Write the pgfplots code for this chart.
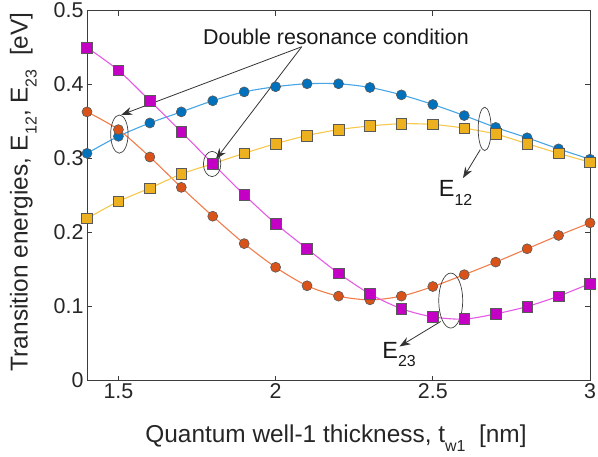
\documentclass[border=0pt]{standalone}
\usepackage{fontspec}
\setmainfont{Liberation Sans}
\usepackage{pgfplots}
\usepackage{pgfplotstable}
\pgfplotsset{compat=1.18}
\usetikzlibrary{arrows.meta}

\definecolor{mblue}{RGB}{0,114,189}
\definecolor{lblue}{RGB}{70,165,228}
\definecolor{morange}{RGB}{217,83,25}
\definecolor{lorange}{RGB}{240,125,75}
\definecolor{myellow}{RGB}{237,177,32}
\definecolor{lyellow}{RGB}{247,200,75}
\definecolor{mmag}{RGB}{196,0,196}
\definecolor{lmag}{RGB}{228,90,228}
\definecolor{axgray}{RGB}{60,60,60}

\newcommand{\sub}[2]{\raisebox{-#1}{\fontsize{16}{16}\selectfont #2}}

\pgfplotstableread{
x    blue   yellow orange magenta
1.4  0.307  0.219  0.363  0.450
1.5  0.330  0.242  0.339  0.419
1.6  0.348  0.260  0.302  0.378
1.7  0.363  0.279  0.261  0.336
1.8  0.378  0.293  0.222  0.293
1.9  0.390  0.307  0.185  0.251
2.0  0.397  0.320  0.153  0.212
2.1  0.401  0.331  0.128  0.178
2.2  0.401  0.339  0.114  0.145
2.3  0.396  0.344  0.109  0.117
2.4  0.386  0.347  0.114  0.097
2.5  0.373  0.346  0.127  0.086
2.6  0.358  0.341  0.143  0.083
2.7  0.342  0.333  0.160  0.090
2.8  0.328  0.320  0.178  0.100
2.9  0.313  0.307  0.196  0.114
3.0  0.299  0.295  0.213  0.131
}\datatable

\begin{document}
\begin{tikzpicture}
\begin{axis}[
  scale only axis, width=503bp, height=370bp,
  xmin=1.4, xmax=3, ymin=0, ymax=0.5,
  xtick={1.5,2,2.5,3}, xticklabels={1.5,2,2.5,3},
  ytick={0,0.1,0.2,0.3,0.4,0.5}, yticklabels={0,0.1,0.2,0.3,0.4,0.5},
  tick align=inside, major tick length=5bp, minor tick num=0,
  axis line style={draw=axgray, line width=0.8bp},
  every tick/.style={draw=axgray, line width=0.8bp},
  tick label style={font=\fontsize{21.5}{24}\selectfont, text=black!85},
  label style={font=\fontsize{24.5}{28}\selectfont, text=black!85},
  xlabel={Quantum well-1 thickness, t\sub{9bp}{w1}\ \ [nm]},
  ylabel={Transition energies, E\sub{9bp}{12}, E\sub{9bp}{23}\ \ [eV]},
  xlabel style={at={(axis description cs:0.495,-0.168)}, anchor=base},
  ylabel style={at={(axis description cs:-0.118,0.51)}, anchor=base},
  clip=false,
  every axis plot/.append style={line width=1.1bp, smooth},
]
\addplot[lblue, mark=*, mark size=5bp, mark options={fill=mblue, draw=black!65, line width=0.6bp}] table[x=x, y=blue] {\datatable};
\addplot[lorange, mark=*, mark size=5bp, mark options={fill=morange, draw=black!65, line width=0.6bp}] table[x=x, y=orange] {\datatable};
\addplot[lyellow, mark=square*, mark size=5.3bp, mark options={fill=myellow, draw=black!65, line width=0.6bp}] table[x=x, y=yellow] {\datatable};
\addplot[lmag, mark=square*, mark size=5.3bp, mark options={fill=mmag, draw=black!65, line width=0.6bp}] table[x=x, y=magenta] {\datatable};

% annotations
\draw[black!75, line width=0.7bp] (axis cs:1.503,0.333) ellipse [x radius=8.7bp, y radius=19.1bp];
\draw[black!75, line width=0.7bp] (axis cs:1.798,0.2926) ellipse [x radius=8.7bp, y radius=12.6bp];
\draw[black!75, line width=0.7bp] (axis cs:2.665,0.340) ellipse [x radius=6.5bp, y radius=21.7bp];
\draw[black!75, line width=0.7bp] (axis cs:2.557,0.108) ellipse [x radius=12bp, y radius=27.5bp];

\draw[-{Stealth[length=11bp,width=8bp]}, black!80, line width=0.8bp] (axis cs:2.083,0.451) -- (axis cs:1.509,0.359);
\draw[-{Stealth[length=11bp,width=8bp]}, black!80, line width=0.8bp] (axis cs:2.083,0.451) -- (axis cs:1.810,0.299);
\draw[-{Stealth[length=11bp,width=8bp]}, black!80, line width=0.8bp] (axis cs:2.651,0.312) -- (axis cs:2.596,0.2735);
\draw[-{Stealth[length=11bp,width=8bp]}, black!80, line width=0.8bp] (axis cs:2.525,0.0797) -- (axis cs:2.394,0.046);

\node[anchor=base west, inner sep=0, font=\fontsize{21.5}{24}\selectfont, text=black!90] at (axis cs:1.769,0.4536) {Double resonance condition};
\node[anchor=base west, inner sep=0, font=\fontsize{23.5}{26}\selectfont, text=black!90] at (axis cs:2.519,0.248) {E\sub{8.3bp}{12}};
\node[anchor=base west, inner sep=0, font=\fontsize{23.5}{26}\selectfont, text=black!90] at (axis cs:2.339,0.0303) {E\sub{8.3bp}{23}};
\end{axis}
\pgfresetboundingbox
\path[use as bounding box] ([xshift=-87bp,yshift=-76.3bp]current axis.south west) rectangle ([xshift=8bp,yshift=10.5bp]current axis.north east);
\end{tikzpicture}
\end{document}
